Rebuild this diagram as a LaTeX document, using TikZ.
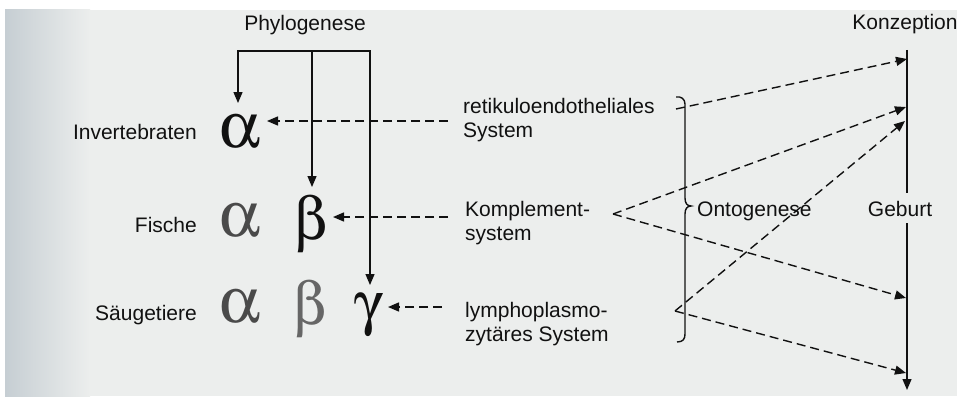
\documentclass[tikz,border=0pt]{standalone}
\usepackage{fontspec}
\setmainfont{Liberation Sans}
\usepackage[Symbol]{upgreek}
\usetikzlibrary{arrows.meta}
\definecolor{bg}{HTML}{ECEEED}
\definecolor{bgl}{HTML}{C6CED3}
\definecolor{ink}{HTML}{111111}
\definecolor{gra}{HTML}{4A4A4A}
\definecolor{grb}{HTML}{666666}
\begin{document}
\begin{tikzpicture}[x=1pt,y=-1pt,
  lbl/.style={font=\fontsize{21}{24}\selectfont, text=ink, inner sep=0pt},
  rlbl/.style={lbl, align=left, anchor=north west},
  gr/.style={inner sep=0pt, anchor=base, font=\fontsize{#1}{#1}\selectfont},
  solidarr/.style={draw=ink, line width=1.3pt, line join=miter, -{Triangle[length=11pt,width=9pt]}},
  dasharr/.style={draw=ink, line width=1.4pt, dash pattern=on 9pt off 5pt, -{Triangle[length=11pt,width=9pt]}},
  braceline/.style={draw=ink, line width=1.4pt},
]
\useasboundingbox (0,0) rectangle (957,396);
\fill[white] (0,0) rectangle (957,396);
\fill[bg] (5,10) rectangle (957,396);
\shade[left color=bgl, right color=bg] (5,10) rectangle (90,396);

% labels left
\node[lbl, anchor=base] (phylo) at (305,31) {Phylogenese};
\node[lbl, anchor=base east] (inv) at (197,139) {Invertebraten};
\node[lbl, anchor=base east] (fis) at (197,232) {Fische};
\node[lbl, anchor=base east] (sau) at (197,320) {Säugetiere};

% greek letters
\node[gr=65, text=ink] (a1) at (240,147) {$\upalpha$};
\node[gr=65, text=gra] (a2) at (240,236) {$\upalpha$};
\node[gr=60, text=ink] (b2) at (311,239) {$\upbeta$};
\node[gr=65, text=gra] (a3) at (240,322) {$\upalpha$};
\node[gr=60, text=grb] (b3) at (310,324) {$\upbeta$};
\node[gr=60, text=ink] (g3) at (369,323) {$\upgamma$};

% right texts
\node[rlbl] (ret) at (463,98) {retikuloendotheliales\\System};
\node[rlbl] (kom) at (465,201) {Komplement-\\system};
\node[rlbl] (lym) at (465,302) {lymphoplasmo-\\zytäres System};
\node[lbl, anchor=base west] (onto) at (697,216) {Ontogenese};
\node[lbl, anchor=base] (konz) at (905,30) {Konzeption};
\node[lbl, anchor=base] (geb) at (900,216) {Geburt};

% phylogenese bracket
\coordinate (pm) at (312,51);
\coordinate (pl) at (238,51);
\coordinate (pr) at (370,51);
\coordinate (ta) at (238,103);
\coordinate (tb) at (312,187);
\coordinate (tg) at (370,285);
\draw[solidarr] (pm) -- (pl) -- (ta);
\draw[solidarr] (pm) -- (pr) -- (tg);
\draw[solidarr] (pm) -- (tb);

% horizontal dashed arrows
\coordinate (s1) at (448,121);
\coordinate (e1) at (267,121);
\coordinate (s2) at (448,217);
\coordinate (e2) at (333,217);
\coordinate (s3) at (442,307);
\coordinate (e3) at (388,307);
\draw[dasharr] (s1) -- (e1);
\draw[dasharr] (s2) -- (e2);
\draw[dasharr] (s3) -- (e3);

% time line
\coordinate (k0) at (907,50);
\coordinate (k1) at (907,193);
\coordinate (k2) at (907,223);
\coordinate (k3) at (907,390);
\draw[draw=ink, line width=1.4pt] (k0) -- (k1);
\draw[solidarr] (k2) -- (k3);

% brace
\draw[braceline] (676,97) .. controls (681,96) and (685,99) .. (685,104) -- (685,198)
  .. controls (685,203) and (687,206) .. (691,206)
  .. controls (687,206) and (685,209) .. (685,214) -- (685,334)
  .. controls (685,339) and (683,342) .. (677,342);

% ontogenese arrows
\coordinate (r0) at (676,109);
\coordinate (c0) at (613,214);
\coordinate (l0) at (675,311);
\coordinate (t1) at (907,59);
\coordinate (t2) at (906,107);
\coordinate (t3) at (905,121);
\coordinate (t4) at (906,298);
\coordinate (t5) at (906,373);
\draw[dasharr] (r0) -- (t1);
\draw[dasharr] (c0) -- (t2);
\draw[dasharr] (l0) -- (t3);
\draw[dasharr] (c0) -- (t4);
\draw[dasharr] (l0) -- (t5);
\end{tikzpicture}
\end{document}
